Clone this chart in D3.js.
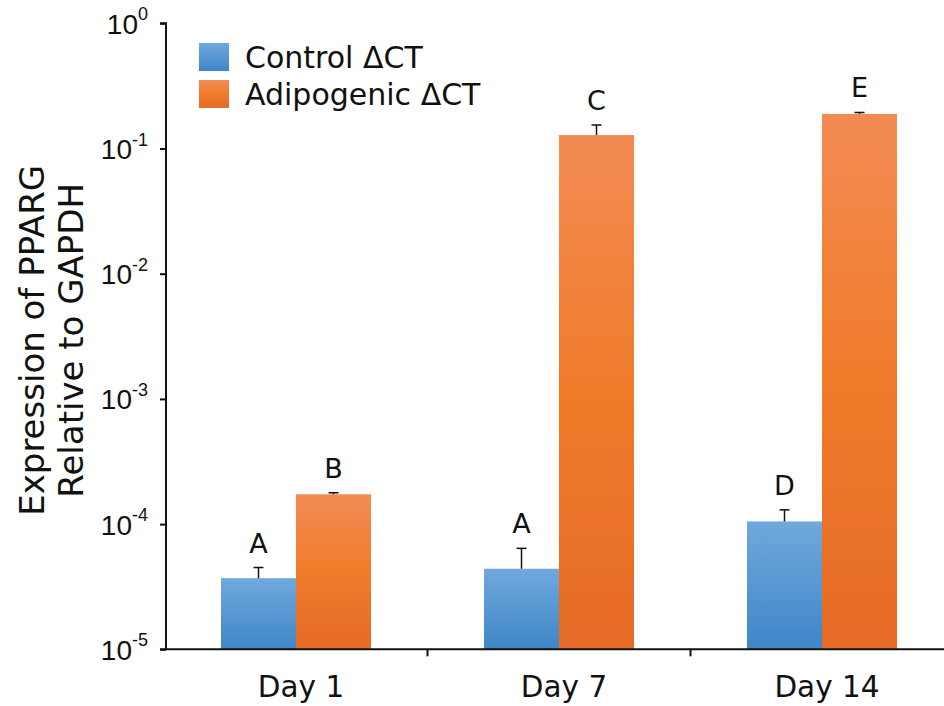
<!DOCTYPE html>
<html>
<head>
<meta charset="utf-8">
<script src="https://cdn.jsdelivr.net/npm/d3@7"></script>
<style>
  html, body { margin: 0; padding: 0; background: #fff; }
  svg { display: block; font-family: "DejaVu Sans", Verdana, sans-serif; }
</style>
</head>
<body>
<svg id="chart" width="944" height="706"></svg>
<script>
// PPARG expression (relative to GAPDH) by day and condition
const days = ["Day 1", "Day 7", "Day 14"];
const seriesNames = ["Control ΔCT", "Adipogenic ΔCT"];
const controlValues = [3.7e-5, 4.4e-5, 1.05e-4];
const controlErrors = [0.8e-5, 2.0e-5, 0.25e-4];
const adipogenicValues = [1.73e-4, 0.128, 0.189];
const adipogenicErrors = [0.05e-4, 0.026, 0.005];
const controlLetters = ["A", "A", "D"];
const adipogenicLetters = ["B", "C", "E"];
const yTickExponents = [0, -1, -2, -3, -4, -5];
const yTitleLines = ["Expression of PPARG", "Relative to GAPDH"];

const svg = d3.select("#chart");

// Vertical gradients for the two series
const defs = svg.append("defs");
const gradients = [
  { id: "gradControl", stops: [["0%", "#71a8dc"], ["100%", "#3e86c8"]] },
  { id: "gradAdipo", stops: [["0%", "#f28b53"], ["50%", "#f17b2a"], ["100%", "#e56a26"]] }
];
gradients.forEach(g => {
  const lg = defs.append("linearGradient").attr("id", g.id)
    .attr("x1", 0).attr("y1", 0).attr("x2", 0).attr("y2", 1);
  g.stops.forEach(([o, c]) => lg.append("stop").attr("offset", o).attr("stop-color", c));
});
const fills = ["url(#gradControl)", "url(#gradAdipo)"];

const axisLeft = 166, axisTop = 23.3, axisBottom = 649.3;

const y = d3.scaleLog().domain([1e-5, 1]).range([axisBottom, axisTop]);
const x0 = d3.scaleBand().domain(days).range([164.5, 953.5]).padding(0);
const barW = 75;
const x1 = d3.scaleBand().domain(seriesNames)
  .range([x0.bandwidth() / 2 - barW, x0.bandwidth() / 2 + barW]).padding(0);

const rows = days.map((d, i) => ({
  day: d,
  items: [
    { s: seriesNames[0], v: controlValues[i], e: controlErrors[i], l: controlLetters[i], k: 0 },
    { s: seriesNames[1], v: adipogenicValues[i], e: adipogenicErrors[i], l: adipogenicLetters[i], k: 1 }
  ]
}));

const groups = svg.append("g").selectAll("g").data(rows).join("g")
  .attr("transform", d => `translate(${x0(d.day)},0)`);

// Bars
groups.selectAll("rect").data(d => d.items).join("rect")
  .attr("x", d => x1(d.s))
  .attr("width", x1.bandwidth())
  .attr("y", d => y(d.v))
  .attr("height", d => axisBottom - y(d.v))
  .attr("fill", d => fills[d.k]);

// Upper error whiskers
const cap = 5;
const err = groups.selectAll("g.err").data(d => d.items).join("g").attr("class", "err")
  .attr("stroke", "#111").attr("stroke-width", 1.5);
err.append("line")
  .attr("x1", d => x1(d.s) + x1.bandwidth() / 2).attr("x2", d => x1(d.s) + x1.bandwidth() / 2)
  .attr("y1", d => y(d.v)).attr("y2", d => y(d.v + d.e));
err.append("line")
  .attr("x1", d => x1(d.s) + x1.bandwidth() / 2 - cap).attr("x2", d => x1(d.s) + x1.bandwidth() / 2 + cap)
  .attr("y1", d => y(d.v + d.e)).attr("y2", d => y(d.v + d.e));

// Significance letters
groups.selectAll("text.letter").data(d => d.items).join("text").attr("class", "letter")
  .attr("x", d => x1(d.s) + x1.bandwidth() / 2)
  .attr("y", d => y(d.v + d.e) - 15)
  .attr("text-anchor", "middle")
  .attr("font-size", 27)
  .attr("fill", "#111")
  .text(d => d.l);

// Y axis (log, decades only)
const yAxis = d3.axisLeft(y).tickValues(yTickExponents.map(e => Math.pow(10, e)))
  .tickSize(6).tickPadding(0).tickFormat(() => "");
const gy = svg.append("g").attr("transform", `translate(${axisLeft},0)`).call(yAxis);
gy.select(".domain").attr("stroke", "#111").attr("stroke-width", 2).attr("d", `M-6,${axisTop}H0V${axisBottom}`);
gy.selectAll(".tick line").attr("stroke", "#111").attr("stroke-width", 2);
gy.selectAll(".tick").each(function(d) {
  const t = d3.select(this).append("text")
    .attr("x", -18).attr("dy", "0.36em")
    .attr("text-anchor", "end").attr("fill", "#111")
    .attr("font-size", 28);
  t.append("tspan").text("10");
  t.append("tspan").attr("font-size", 18).attr("dy", "-0.75em")
    .text(String(Math.round(Math.log10(d))).replace("−", "-"));
});

// X axis
const gx = svg.append("g").attr("transform", `translate(0,${axisBottom})`);
gx.append("line").attr("x1", axisLeft - 6).attr("x2", 944).attr("y1", 0).attr("y2", 0)
  .attr("stroke", "#111").attr("stroke-width", 2);
gx.selectAll("line.tick").data(days.slice(1)).join("line").attr("class", "tick")
  .attr("x1", d => x0(d)).attr("x2", d => x0(d)).attr("y1", 0).attr("y2", 7)
  .attr("stroke", "#111").attr("stroke-width", 2);
gx.selectAll("text").data(days).join("text")
  .attr("x", d => x0(d) + x0.bandwidth() / 2 + 5)
  .attr("y", 48)
  .attr("text-anchor", "middle").attr("font-size", 29.5).attr("fill", "#111")
  .text(d => d);

// Y axis title
const title = svg.append("text")
  .attr("transform", `translate(0,${(axisTop + axisBottom) / 2 + 4}) rotate(-90)`)
  .attr("text-anchor", "middle").attr("font-size", 34).attr("fill", "#111");
title.selectAll("tspan").data(yTitleLines).join("tspan")
  .attr("x", 0).attr("y", (d, i) => 44 + i * 39).text(d => d);

// Legend
const legend = svg.append("g").attr("transform", "translate(199,43)");
const li = legend.selectAll("g").data(seriesNames).join("g")
  .attr("transform", (d, i) => `translate(0,${i * 37})`);
li.append("rect").attr("width", 30).attr("height", 28).attr("fill", (d, i) => fills[i]);
li.append("text").attr("x", 46).attr("y", 14).attr("dy", "0.36em")
  .attr("font-size", 30).attr("fill", "#111").text(d => d);
</script>
</body>
</html>
